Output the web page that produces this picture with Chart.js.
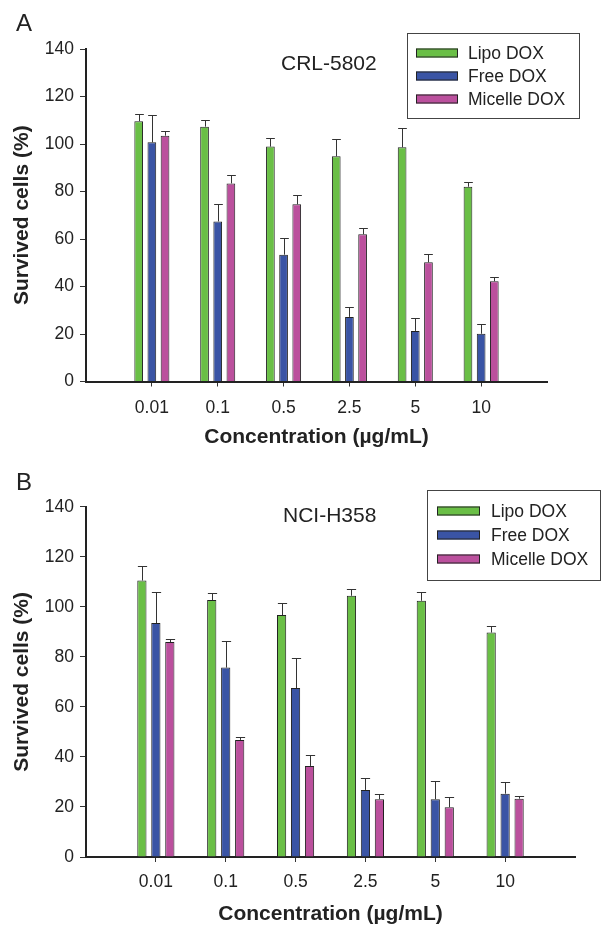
<!DOCTYPE html>
<html>
<head>
<meta charset="utf-8">
<script src="https://cdn.jsdelivr.net/npm/chart.js@4.4.0/dist/chart.umd.min.js"></script>
<style>
  html, body { margin: 0; padding: 0; background: #fff; }
  #wrap { position: relative; width: 605px; height: 929px; }
  canvas { position: absolute; left: 0; }
</style>
</head>
<body>
<div id="wrap">
  <canvas id="chartA" width="605" height="465" style="top:0px"></canvas>
  <canvas id="chartB" width="605" height="464" style="top:465px"></canvas>
</div>
<script>
// Concentraciones (µg/mL) y series
const concentrations = ['0.01', '0.1', '0.5', '2.5', '5', '10'];
const seriesNames = ['Lipo DOX', 'Free DOX', 'Micelle DOX'];
const seriesColors = ['#6abf46', '#3a54a5', '#bb509d'];

// Panel A: CRL-5802
const lipoA = [109.6, 107.3, 98.9, 94.8, 98.6, 82.0];
const lipoErrA = [2.9, 2.7, 3.5, 7.2, 8.0, 1.9];
const freeA = [100.7, 67.4, 53.4, 27.2, 21.3, 20.1];
const freeErrA = [11.5, 7.5, 7.1, 4.0, 5.3, 4.2];
const micelleA = [103.5, 83.4, 74.6, 62.0, 50.2, 42.2];
const micelleErrA = [2.0, 3.5, 3.9, 2.8, 3.4, 1.9];

// Panel B: NCI-H358
const lipoB = [110.5, 102.7, 96.7, 104.4, 102.4, 89.7];
const lipoErrB = [5.9, 3.0, 5.0, 2.7, 3.7, 2.6];
const freeB = [93.5, 75.7, 67.5, 26.8, 23.1, 25.3];
const freeErrB = [12.4, 10.8, 12.0, 4.7, 7.3, 4.7];
const micelleB = [85.9, 46.8, 36.4, 23.1, 19.9, 23.3];
const micelleErrB = [1.4, 1.3, 4.5, 2.2, 4.1, 1.2];

const FONT = "'Liberation Sans', Arial, sans-serif";

// Barras de error (solo hacia arriba)
const errorBars = {
  id: 'errorBars',
  afterDatasetsDraw(chart) {
    const ctx = chart.ctx;
    const yScale = chart.scales.y;
    ctx.save();
    ctx.strokeStyle = '#333';
    ctx.lineWidth = 1;
    chart.data.datasets.forEach((ds, i) => {
      const meta = chart.getDatasetMeta(i);
      meta.data.forEach((bar, j) => {
        const top = Math.round(yScale.getPixelForValue(ds.data[j].y + ds.errors[j])) + 0.5;
        const x = Math.round(bar.x) + 0.5;
        const half = bar.width / 2;
        ctx.beginPath();
        ctx.moveTo(x, bar.y);
        ctx.lineTo(x, top);
        ctx.moveTo(x - half, top);
        ctx.lineTo(x + half, top);
        ctx.stroke();
      });
    });
    ctx.restore();
  }
};

// Leyenda con recuadro, letra del panel y nombre de la línea celular
const annotations = {
  id: 'annotations',
  afterDraw(chart, args, opts) {
    const ctx = chart.ctx;
    ctx.save();
    // letra del panel
    ctx.fillStyle = '#222';
    ctx.font = '24px ' + FONT;
    ctx.textBaseline = 'middle';
    ctx.textAlign = 'left';
    ctx.fillText(opts.panel, opts.panelX, opts.panelY);
    // línea celular
    ctx.font = '21px ' + FONT;
    ctx.fillText(opts.title, opts.titleX, opts.titleY);
    // leyenda
    const L = opts.legend;
    ctx.strokeStyle = '#444';
    ctx.lineWidth = 1;
    ctx.strokeRect(L.x + 0.5, L.y + 0.5, L.w, L.h);
    ctx.font = '17.5px ' + FONT;
    chart.data.datasets.forEach((ds, i) => {
      const cy = L.rowY + i * L.rowGap;
      ctx.fillStyle = ds.backgroundColor;
      ctx.fillRect(L.swX, cy - 4.5, L.swW, 9);
      ctx.strokeStyle = '#222';
      ctx.strokeRect(L.swX + 0.5, cy - 4.5 + 0.5, L.swW - 1, 8);
      ctx.fillStyle = '#222';
      ctx.fillText(ds.label, L.textX, cy + 1);
    });
    ctx.restore();
  }
};

function makeDatasets(values, errors) {
  return values.map((vals, i) => ({
    label: seriesNames[i],
    data: vals.map((v, j) => ({ x: j, y: v })),
    errors: errors[i],
    backgroundColor: seriesColors[i],
    borderColor: '#222',
    borderWidth: 1,
    categoryPercentage: 0.6,
    barPercentage: 0.66
  }));
}

function makeChart(id, values, errors, cfg) {
  const ctx = document.getElementById(id).getContext('2d');
  return new Chart(ctx, {
    type: 'bar',
    data: { datasets: makeDatasets(values, errors) },
    plugins: [errorBars, annotations],
    options: {
      responsive: false,
      animation: false,
      layout: { padding: { left: 0, top: cfg.top, right: cfg.right, bottom: 0 } },
      plugins: {
        legend: { display: false },
        tooltip: { enabled: false },
        annotations: cfg.ann
      },
      scales: {
        x: {
          type: 'linear',
          min: -1,
          max: 6,
          offset: false,
          afterFit: s => { s.height = cfg.xHeight; },
          ticks: {
            stepSize: 1,
            autoSkip: false,
            maxRotation: 0,
            padding: cfg.xTickPad,
            color: '#222',
            font: { family: FONT, size: 17.5 },
            callback: v => concentrations[v] ?? ''
          },
          grid: {
            offset: false,
            drawOnChartArea: false,
            tickLength: 5,
            tickWidth: 1,
            tickColor: c => (c.tick && c.tick.value >= 0 && c.tick.value < concentrations.length) ? '#333' : 'rgba(0,0,0,0)'
          },
          border: { display: true, color: '#222', width: 2 },
          title: {
            display: true,
            text: 'Concentration (µg/mL)',
            color: '#222',
            font: { family: FONT, size: 21, weight: 'bold' },
            padding: { top: 0, bottom: cfg.xTitlePad }
          }
        },
        y: {
          min: 0,
          max: 140,
          afterFit: s => { s.width = 86; },
          ticks: {
            stepSize: 20,
            padding: 6,
            color: '#222',
            font: { family: FONT, size: 17.5 }
          },
          grid: {
            drawOnChartArea: false,
            tickLength: 6,
            tickWidth: 1,
            tickColor: '#333'
          },
          border: { display: true, color: '#222', width: 2 },
          title: {
            display: true,
            text: 'Survived cells (%)',
            color: '#222',
            font: { family: FONT, size: 21, weight: 'bold' },
            padding: { top: 10, bottom: 0 }
          }
        }
      }
    }
  });
}

makeChart('chartA',
  [lipoA, freeA, micelleA],
  [lipoErrA, freeErrA, micelleErrA],
  {
    top: 49, right: 58, xHeight: 83.5, xTickPad: 11, xTitlePad: 15,
    ann: {
      panel: 'A', panelX: 16, panelY: 24,
      title: 'CRL-5802', titleX: 281, titleY: 64,
      legend: { x: 407, y: 33, w: 172, h: 85, swX: 416, swW: 42, textX: 468, rowY: 53, rowGap: 23 }
    }
  });

makeChart('chartB',
  [lipoB, freeB, micelleB],
  [lipoErrB, freeErrB, micelleErrB],
  {
    top: 41.7, right: 30, xHeight: 72, xTickPad: 10, xTitlePad: 2.5,
    ann: {
      panel: 'B', panelX: 16, panelY: 18,
      title: 'NCI-H358', titleX: 283, titleY: 51,
      legend: { x: 427, y: 25, w: 173, h: 90, swX: 437, swW: 43, textX: 491, rowY: 46, rowGap: 24 }
    }
  });
</script>
</body>
</html>
